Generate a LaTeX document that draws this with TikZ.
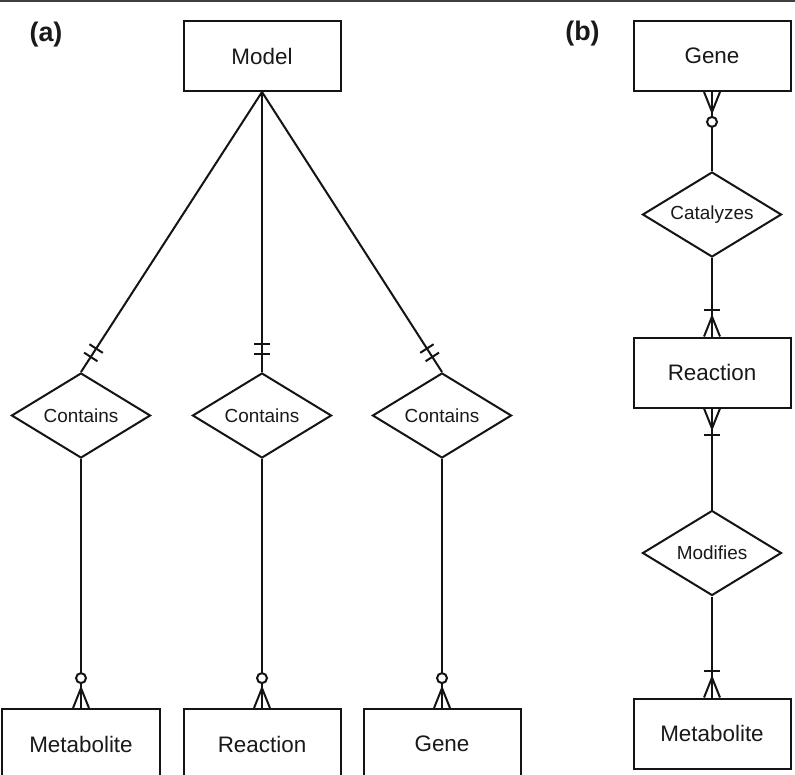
\documentclass[tikz,border=0pt]{standalone}
\usepackage{fontspec}
\setmainfont{Liberation Sans}
\usetikzlibrary{shapes.geometric,calc}
\newcommand\erZeroMany[2]{%
  \draw[conn] ($(#1)!8pt!90:(#2)$) -- ($(#1)!20pt!(#2)$) -- ($(#1)!8pt!-90:(#2)$);
  \draw[conn, fill=white] ($(#1)!30pt!(#2)$) circle[radius=5pt];
}
\newcommand\erOneMany[2]{%
  \draw[conn] ($(#1)!8pt!90:(#2)$) -- ($(#1)!20pt!(#2)$) -- ($(#1)!8pt!-90:(#2)$);
  \coordinate (erbar) at ($(#1)!27pt!(#2)$);
  \draw[conn] ($(erbar)!8pt!90:(#2)$) -- ($(erbar)!8pt!-90:(#2)$);
}
\newcommand\erOneOne[2]{%
  \coordinate (erbarA) at ($(#1)!18pt!(#2)$);
  \coordinate (erbarB) at ($(#1)!28pt!(#2)$);
  \draw[conn] ($(erbarA)!8pt!90:(#2)$) -- ($(erbarA)!8pt!-90:(#2)$);
  \draw[conn] ($(erbarB)!8pt!90:(#2)$) -- ($(erbarB)!8pt!-90:(#2)$);
}
\begin{document}
\begin{tikzpicture}[x=1bp,y=-1bp,
  conn/.style={draw=black!92, line width=2bp},
  entity/.style={draw=black!92, line width=2bp, rectangle, minimum width=157bp, minimum height=70bp, inner sep=0pt, font=\fontsize{22.5}{27}\selectfont, text=black!90},
  rel/.style={draw=black!92, line width=2bp, diamond, aspect=1.635, minimum width=139bp, minimum height=85bp, inner sep=0pt, font=\fontsize{19}{23}\selectfont, text=black!90},
  panel/.style={font=\bfseries\fontsize{27}{32}\selectfont, text=black!90, inner sep=0pt}]
\useasboundingbox (0,0) rectangle (795,775);
\clip (0,0) rectangle (795,775);
\fill[white] (0,0) rectangle (795,775);
\draw[black!75, line width=1.8bp] (0,1) -- (795,1);

% panel (a)
\node[panel] (la) at (46,35) {(a)};
\node[entity] (model) at (262,56) {Model};
\node[rel] (d1) at (81,415.5) {Contains};
\node[rel] (d2) at (262,415.5) {Contains};
\node[rel] (d3) at (442,415.5) {Contains};
\node[entity] (m1) at (81,744) {Metabolite};
\node[entity] (m2) at (262,744) {Reaction};
\node[entity] (m3) at (442,744) {Gene};

\draw[conn] (model.south) -- (d1.north);
\draw[conn] (model.south) -- (d2.north);
\draw[conn] (model.south) -- (d3.north);
\erOneOne{d1.north}{model.south}
\erOneOne{d2.north}{model.south}
\erOneOne{d3.north}{model.south}

\draw[conn] (d1.south) -- (m1.north);
\draw[conn] (d2.south) -- (m2.north);
\draw[conn] (d3.south) -- (m3.north);
\erZeroMany{m1.north}{d1.south}
\erZeroMany{m2.north}{d2.south}
\erZeroMany{m3.north}{d3.south}

% panel (b)
\node[panel] (lb) at (582.5,34) {(b)};
\node[entity] (gb) at (712,56) {Gene};
\node[rel] (cat) at (712,214.5) {Catalyzes};
\node[entity] (rb) at (712,372.5) {Reaction};
\node[rel] (mod) at (712,553) {Modifies};
\node[entity] (mb) at (712,733.5) {Metabolite};

\draw[conn] (gb.south) -- (cat.north);
\draw[conn] (cat.south) -- (rb.north);
\draw[conn] (rb.south) -- (mod.north);
\draw[conn] (mod.south) -- (mb.north);
\erZeroMany{gb.south}{cat.north}
\erOneMany{rb.north}{cat.south}
\erOneMany{rb.south}{mod.north}
\erOneMany{mb.north}{mod.south}
\end{tikzpicture}
\end{document}
